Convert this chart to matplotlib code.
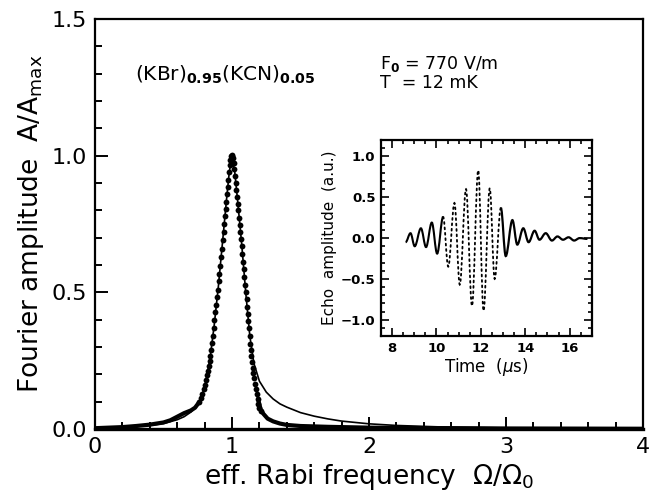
import numpy as np
import matplotlib
matplotlib.use("Agg")
import matplotlib.pyplot as plt
from matplotlib.path import Path
from matplotlib.patches import PathPatch
from matplotlib.ticker import MultipleLocator

plt.rcParams['font.family'] = ['DejaVu Sans']
plt.rcParams['mathtext.fontset'] = 'dejavusans'

# ---------------- main plot data ----------------
# theory (thin solid line)
theory_x = [0, 0.2, 0.4, 0.5, 0.6, 0.65, 0.7, 0.75, 0.8, 0.84, 0.87, 0.9, 0.93, 0.96,
            0.98, 1.0, 1.02, 1.04, 1.07, 1.1, 1.13, 1.16, 1.2, 1.25, 1.3, 1.35, 1.4,
            1.5, 1.6, 1.7, 1.8, 2.0, 2.2, 2.5, 3.0, 3.5, 4.0]
theory_y = [0.003, 0.006, 0.013, 0.020, 0.034, 0.045, 0.062, 0.090, 0.15, 0.26, 0.38,
            0.52, 0.68, 0.84, 0.94, 1.0, 0.94, 0.84, 0.68, 0.50, 0.34, 0.24, 0.175,
            0.135, 0.11, 0.092, 0.08, 0.06, 0.047, 0.037, 0.029, 0.019, 0.013, 0.008,
            0.004, 0.002, 0.001]

# measured data, flat wings (dots merge into a thick line)
meas_left_x = [0, 0.1, 0.2, 0.3, 0.4, 0.5, 0.55, 0.6, 0.65, 0.7, 0.73, 0.76]
meas_left_y = [0.003, 0.005, 0.007, 0.011, 0.016, 0.024, 0.032, 0.045, 0.058, 0.068,
               0.078, 0.098]
meas_right_x = [1.19, 1.21, 1.23, 1.26, 1.3, 1.35, 1.4, 1.5, 1.7, 2.0, 2.5, 3.0, 3.5, 4.0]
meas_right_y = [0.11, 0.07, 0.055, 0.038, 0.028, 0.02, 0.015, 0.011, 0.008, 0.005,
                0.003, 0.002, 0.0015, 0.001]

# measured data, steep peak region (separate dots)
meas_peak_x = [0.760, 0.772, 0.783, 0.793, 0.802, 0.810, 0.817, 0.824, 0.830, 0.836,
               0.842, 0.848, 0.854, 0.860, 0.866, 0.872, 0.878, 0.884, 0.890, 0.896,
               0.902, 0.908, 0.914, 0.920, 0.926, 0.932, 0.938, 0.943, 0.948, 0.953,
               0.958, 0.963, 0.968, 0.973, 0.978, 0.983, 0.988, 0.993, 0.998, 1.003,
               1.008, 1.012, 1.016, 1.021, 1.026, 1.031, 1.036, 1.041, 1.046, 1.051,
               1.056, 1.061, 1.066, 1.071, 1.076, 1.081, 1.086, 1.091, 1.096, 1.101,
               1.106, 1.111, 1.116, 1.120, 1.124, 1.128, 1.132, 1.136, 1.140, 1.145,
               1.150, 1.156, 1.162, 1.168, 1.174, 1.180, 1.186, 1.193, 1.200, 1.210]
meas_peak_y = [0.098, 0.112, 0.128, 0.145, 0.162, 0.180, 0.196, 0.213, 0.230, 0.248,
               0.268, 0.290, 0.315, 0.340, 0.370, 0.400, 0.428, 0.455, 0.482, 0.510,
               0.540, 0.568, 0.598, 0.628, 0.658, 0.690, 0.722, 0.750, 0.778, 0.806,
               0.832, 0.858, 0.885, 0.912, 0.940, 0.965, 0.985, 0.998, 1.003, 1.0,
               0.990, 0.972, 0.950, 0.925, 0.900, 0.875, 0.848, 0.822, 0.800, 0.772,
               0.745, 0.720, 0.695, 0.668, 0.640, 0.612, 0.585, 0.556, 0.528, 0.500,
               0.475, 0.448, 0.420, 0.395, 0.368, 0.340, 0.312, 0.290, 0.268, 0.245,
               0.225, 0.205, 0.185, 0.165, 0.146, 0.128, 0.110, 0.092, 0.078, 0.065]

x_ticks = [0, 1, 2, 3, 4]
y_ticks = [0.0, 0.5, 1.0, 1.5]

# ---------------- inset data (echo extrema) ----------------
echo_t = [8.61, 8.83, 9.02, 9.30, 9.53, 9.79, 10.03, 10.30, 10.53, 10.81, 11.05, 11.33,
          11.60, 11.88, 12.12, 12.40, 12.62, 12.90, 13.12, 13.42, 13.64, 13.91, 14.15,
          14.42, 14.64, 14.92, 15.20, 15.45, 15.70, 15.95, 16.20, 16.45, 16.80]
echo_a = [-0.05, 0.06, -0.10, 0.12, -0.11, 0.19, -0.19, 0.26, -0.35, 0.43, -0.57, 0.60,
          -0.83, 0.83, -0.89, 0.61, -0.50, 0.37, -0.22, 0.22, -0.08, 0.12, -0.05, 0.09,
          -0.02, 0.06, -0.03, 0.02, -0.02, 0.01, -0.03, 0.0, -0.01]
dotted_from, dotted_to = 7, 17   # indices of the dotted (steep) central part

fig = plt.figure(figsize=(6.49, 4.95), dpi=100)
ax = fig.add_axes([0.1464, 0.1333, 0.8444, 0.8283])

ax.plot(theory_x, theory_y, color='black', lw=1.2, zorder=3)
ax.plot(meas_left_x, meas_left_y, color='black', lw=3.0, solid_capstyle='round', zorder=3)
ax.plot(meas_right_x, meas_right_y, color='black', lw=3.0, solid_capstyle='round', zorder=3)
ax.plot(meas_peak_x, meas_peak_y, 'o', color='black', ms=4.2, mew=0, zorder=4)

ax.set_xlim(0, 4)
ax.set_ylim(0, 1.5)
ax.set_xticks(x_ticks)
ax.set_yticks(y_ticks)
ax.set_xticklabels([str(v) for v in x_ticks])
ax.set_yticklabels(['%.1f' % v for v in y_ticks])
ax.xaxis.set_minor_locator(MultipleLocator(0.2))
ax.yaxis.set_minor_locator(MultipleLocator(0.1))
ax.tick_params(which='both', direction='in', top=False, right=False, width=1.4,
               labelsize=16)
ax.tick_params(which='major', length=9, pad=6)
ax.tick_params(which='minor', length=5)
for s in ax.spines.values():
    s.set_linewidth(1.6)
ax.spines['bottom'].set_linewidth(2.4)

ax.set_xlabel(r'eff. Rabi frequency  $\Omega/\Omega_0$', fontsize=19, labelpad=3)
ax.set_ylabel(r'Fourier amplitude  A/A$_{\rm max}$', fontsize=19, labelpad=4)

ax.text(0.073, 0.865, r'(KBr)$_{\mathbf{0.95}}$(KCN)$_{\mathbf{0.05}}$',
        transform=ax.transAxes, fontsize=14.5, va='center', ha='left')
ax.text(0.52, 0.89, r'F$_{\mathbf{0}}$ = 770 V/m', transform=ax.transAxes,
        fontsize=12.5, va='center', ha='left')
ax.text(0.52, 0.843, r'T  = 12 mK', transform=ax.transAxes,
        fontsize=12.5, va='center', ha='left')

# ---------------- inset ----------------
ins = fig.add_axes([0.587, 0.321, 0.325, 0.396])


def bezier_path(ts, ys):
    verts = [(ts[0], ys[0])]
    codes = [Path.MOVETO]
    for i in range(len(ts) - 1):
        d = ts[i + 1] - ts[i]
        verts += [(ts[i] + 0.36 * d, ys[i]), (ts[i + 1] - 0.36 * d, ys[i + 1]),
                  (ts[i + 1], ys[i + 1])]
        codes += [Path.CURVE4] * 3
    return Path(verts, codes)


seg_left = bezier_path(echo_t[:dotted_from + 1], echo_a[:dotted_from + 1])
seg_mid = bezier_path(echo_t[dotted_from:dotted_to + 1], echo_a[dotted_from:dotted_to + 1])
seg_right = bezier_path(echo_t[dotted_to:], echo_a[dotted_to:])
ins.add_patch(PathPatch(seg_left, fill=False, lw=1.5, color='black'))
ins.add_patch(PathPatch(seg_right, fill=False, lw=1.6, color='black'))
ins.add_patch(PathPatch(seg_mid, fill=False, lw=1.3, color='black',
                        linestyle=(0, (1.0, 2.0)), capstyle='round'))

ins.set_xlim(7.5, 17)
ins.set_ylim(-1.2, 1.2)
ins.set_xticks([8, 10, 12, 14, 16])
ins.set_yticks([-1.0, -0.5, 0.0, 0.5, 1.0])
ins.set_yticklabels(['\u22121.0', '\u22120.5', '0.0', '0.5', '1.0'])
ins.xaxis.set_minor_locator(MultipleLocator(0.5))
ins.yaxis.set_minor_locator(MultipleLocator(0.1))
ins.tick_params(which='both', direction='in', top=True, right=True, width=1.2,
                labelsize=9.5)
ins.tick_params(which='major', length=6, pad=4)
ins.tick_params(which='minor', length=3)
for lab in ins.get_xticklabels() + ins.get_yticklabels():
    lab.set_fontweight('bold')
for s in ins.spines.values():
    s.set_linewidth(1.6)
ins.set_xlabel(r'Time  ($\mu$s)', fontsize=12, labelpad=1)
ins.set_ylabel('Echo  amplitude  (a.u.)', fontsize=11, labelpad=3)

fig.savefig('out.png', dpi=100)
